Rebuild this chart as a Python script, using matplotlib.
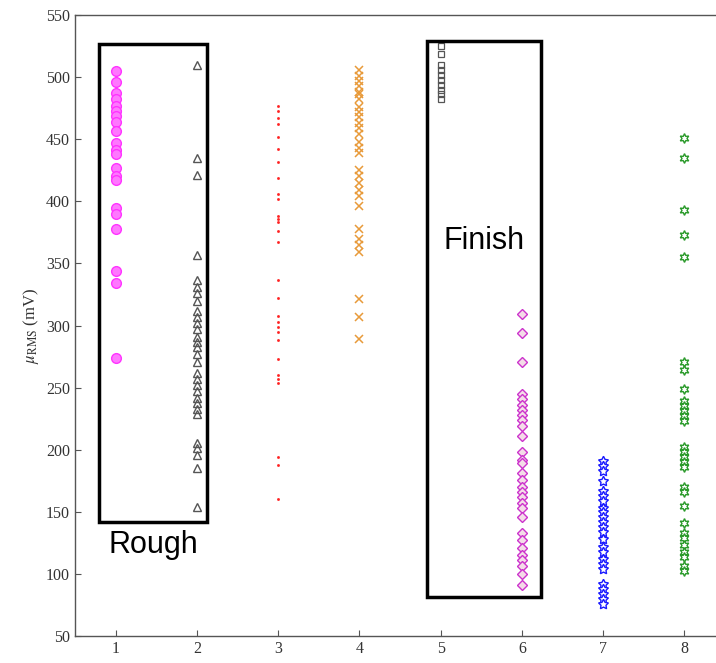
import matplotlib
matplotlib.use('Agg')
import matplotlib.pyplot as plt
from matplotlib.patches import Rectangle

# --- data (mV) ---
g1 = [505, 496, 487, 482, 477, 473, 469, 464, 457, 447, 441, 438, 427, 420, 417, 395, 390, 378, 344, 334, 274]
g2 = [510, 435, 421, 357, 337, 331, 326, 320, 312, 307, 302, 297, 291, 287, 283, 277, 271, 262, 257, 252,
      247, 242, 238, 233, 229, 205, 201, 196, 185, 154]
g3 = [477, 473, 467, 462, 452, 442, 432, 419, 406, 402, 388, 386, 383, 376, 367, 337, 322, 308, 303, 299,
      295, 288, 273, 260, 257, 254, 194, 188, 160]
g4 = [506, 501, 497, 493, 488, 486, 482, 476, 472, 468, 463, 459, 454, 448, 443, 439, 425, 420, 415, 409,
      404, 396, 378, 370, 365, 359, 321, 307, 289]
g5 = [525, 519, 510, 506, 502, 498, 494, 490, 486, 482]
g6 = [309, 294, 271, 245, 241, 236, 232, 228, 224, 219, 211, 198, 192, 189, 181, 176, 170, 166, 162, 157,
      153, 146, 133, 127, 121, 115, 111, 106, 100, 91]
g7 = [191, 187, 183, 175, 167, 163, 159, 153, 150, 146, 142, 138, 134, 128, 122, 118, 112, 108, 104, 92,
      88, 84, 80, 76]
g8 = [451, 435, 393, 373, 355, 271, 264, 249, 239, 235, 231, 227, 223, 202, 198, 194, 190, 186, 170, 166,
      155, 141, 133, 129, 123, 118, 114, 106, 102]
groups = [g1, g2, g3, g4, g5, g6, g7, g8]

# marker styles per group (MATLAB-like)
styles = [
    dict(marker='o', ms=7, mfc='#ff77ff', mec='#ff33ff', mew=1.0),
    dict(marker='^', ms=6, mfc='none', mec='#555555', mew=1.0),
    dict(marker='.', ms=3, mfc='#ff2020', mec='#ff2020', mew=0.5),
    dict(marker='x', ms=6, mfc='none', mec='#e89a3a', mew=1.1),
    dict(marker='s', ms=5, mfc='none', mec='#555555', mew=0.9),
    dict(marker='D', ms=5.5, mfc='#f4dce8', mec='#cc33cc', mew=1.0),
    dict(marker=(5, 1, 0), ms=7.5, mfc='white', mec='#1a1aff', mew=1.0),
    dict(marker=(6, 1, 0), ms=7, mfc='white', mec='#2a9a2a', mew=1.0),
]

plt.rcParams['font.family'] = 'Liberation Serif'
plt.rcParams['mathtext.fontset'] = 'stix'

fig = plt.figure(figsize=(7.16, 6.63), dpi=100)
ax = fig.add_axes([75 / 716, 27 / 663, 650 / 716, 621 / 663])

for i, (vals, st) in enumerate(zip(groups, styles)):
    ax.plot([i + 1] * len(vals), vals, linestyle='none', **st)

# annotation boxes
ax.add_patch(Rectangle((0.80, 142), 1.33, 385, fill=False, lw=2.5, ec='black', zorder=5))
ax.add_patch(Rectangle((4.83, 81), 1.40, 448, fill=False, lw=2.5, ec='black', zorder=5))
ax.text(1.47, 123, 'Rough', fontsize=22, family='Liberation Sans', ha='center', va='center')
ax.text(5.54, 368, 'Finish', fontsize=22, family='Liberation Sans', ha='center', va='center')

ax.set_xlim(0.5, 8.5)
ax.set_ylim(50, 550)
ax.set_xticks(range(1, 9))
ax.set_yticks(range(50, 551, 50))
ax.tick_params(direction='in', length=4, width=0.8, color='#555555', labelsize=11.5, labelcolor='#333333')
ax.set_ylabel(r'$\mu_{\rm RMS}$ (mV)', fontsize=12, color='#333333')
for s in ['left', 'bottom', 'top']:
    ax.spines[s].set_color('#555555')
    ax.spines[s].set_linewidth(1.0)
ax.spines['right'].set_visible(False)

fig.savefig('out.png', dpi=100)
